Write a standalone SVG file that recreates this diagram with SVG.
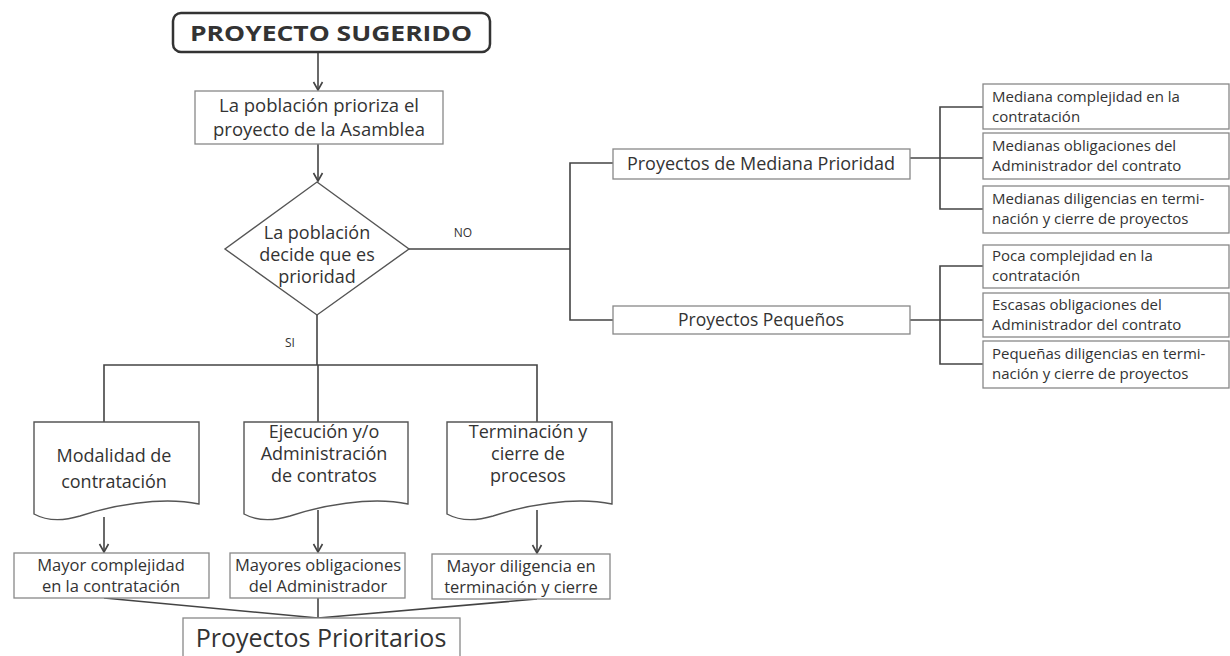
<svg xmlns="http://www.w3.org/2000/svg" width="1230" height="656" viewBox="0 0 1230 656">
<defs>
<style>
.t{font-family:"Open Sans","Liberation Sans",sans-serif;fill:#333;}
.c{text-anchor:middle;}
.box{fill:#fff;stroke:#888;stroke-width:1.3;}
.ln{fill:none;stroke:#444;stroke-width:1.6;}
.r{font-size:15px;}
.d{font-size:18px;}
.m{font-size:16.5px;}
</style>
<marker id="ar" markerWidth="12" markerHeight="12" refX="10" refY="6" orient="auto" markerUnits="userSpaceOnUse" viewBox="0 0 12 12">
<path d="M2,1.5 L10,6 L2,10.5" fill="none" stroke="#444" stroke-width="1.6"/>
</marker>
</defs>
<rect width="1230" height="656" fill="#fff"/>
<g id="connectors">
<line class="ln" x1="318" y1="52" x2="318" y2="90" marker-end="url(#ar)"/>
<line class="ln" x1="318" y1="144" x2="318" y2="181" marker-end="url(#ar)"/>
<polyline class="ln" points="409,249 570,249"/>
<polyline class="ln" points="613,163 570,163 570,320 613,320"/>
<line class="ln" x1="910" y1="158" x2="983" y2="158"/>
<polyline class="ln" points="983,107 940,107 940,209 983,209"/>
<line class="ln" x1="910" y1="320" x2="983" y2="320"/>
<polyline class="ln" points="983,266 940,266 940,364 983,364"/>
<line class="ln" x1="317" y1="315" x2="317" y2="365"/>
<polyline class="ln" points="104,422 104,365 537,365 537,422"/>
<line class="ln" x1="318" y1="365" x2="318" y2="422"/>
<line class="ln" x1="104" y1="517" x2="104" y2="552" marker-end="url(#ar)"/>
<line class="ln" x1="318" y1="510" x2="318" y2="552" marker-end="url(#ar)"/>
<line class="ln" x1="537" y1="510" x2="537" y2="553" marker-end="url(#ar)"/>
<polyline class="ln" points="104,598 318,618 537,599"/>
<line class="ln" x1="318" y1="598" x2="318" y2="618"/>
<text class="t c" x="463" y="237" font-size="12">NO</text>
<text class="t c" x="290" y="347" font-size="12">SI</text>
</g>
<g id="n-sugerido">
<rect x="173" y="13" width="317" height="39" rx="8" fill="#fff" stroke="#333" stroke-width="2.5"/>
<text class="t c" x="331" y="41" font-size="22" font-weight="bold" fill="#222" textLength="282" lengthAdjust="spacingAndGlyphs">PROYECTO SUGERIDO</text>
</g>
<g id="n-prioriza">
<rect class="box" x="195" y="91" width="248" height="53"/>
<text class="t c" x="319" y="112" font-size="18.5">La población prioriza el</text>
<text class="t c" x="319" y="135.5" font-size="18.5">proyecto de la Asamblea</text>
</g>
<g id="n-decide">
<polygon points="317,182 409,249 317,315 225,249" fill="#fff" stroke="#555" stroke-width="1.4"/>
<text class="t c" x="317" y="239" font-size="18">La población</text>
<text class="t c" x="317" y="261" font-size="18">decide que es</text>
<text class="t c" x="317" y="283" font-size="18">prioridad</text>
</g>
<g id="n-mediana">
<rect class="box" x="613" y="149" width="297" height="30"/>
<text class="t c" x="761" y="170" font-size="18">Proyectos de Mediana Prioridad</text>
</g>
<g id="n-pequenos">
<rect class="box" x="613" y="306" width="297" height="28"/>
<text class="t c" x="761" y="326" font-size="17.5">Proyectos Pequeños</text>
</g>
<g id="n-m1">
<rect class="box" x="983" y="84" width="246" height="45"/>
<text class="t r" x="992" y="102">Mediana complejidad en la</text>
<text class="t r" x="992" y="122">contratación</text>
</g>
<g id="n-m2">
<rect class="box" x="983" y="133" width="246" height="46"/>
<text class="t r" x="992" y="151">Medianas obligaciones del</text>
<text class="t r" x="992" y="171">Administrador del contrato</text>
</g>
<g id="n-m3">
<rect class="box" x="983" y="186" width="246" height="47"/>
<text class="t r" x="992" y="204">Medianas diligencias en termi-</text>
<text class="t r" x="992" y="224">nación y cierre de proyectos</text>
</g>
<g id="n-p1">
<rect class="box" x="983" y="245" width="246" height="43"/>
<text class="t r" x="992" y="261">Poca complejidad en la</text>
<text class="t r" x="992" y="281">contratación</text>
</g>
<g id="n-p2">
<rect class="box" x="983" y="293" width="246" height="44"/>
<text class="t r" x="992" y="310">Escasas obligaciones del</text>
<text class="t r" x="992" y="330">Administrador del contrato</text>
</g>
<g id="n-p3">
<rect class="box" x="983" y="341" width="246" height="47"/>
<text class="t r" x="992" y="359">Pequeñas diligencias en termi-</text>
<text class="t r" x="992" y="379">nación y cierre de proyectos</text>
</g>
<g id="n-modalidad">
<path d="M34,422 H199 V504 C160,496 110,506 80,516 C60,522 45,520 34,514 Z" fill="#fff" stroke="#555" stroke-width="1.4"/>
<text class="t c d" x="114" y="462">Modalidad de</text>
<text class="t c d" x="114" y="488">contratación</text>
</g>
<g id="n-ejecucion">
<path d="M244,422 H408 V504 C370,496 320,506 290,516 C270,522 255,520 244,514 Z" fill="#fff" stroke="#555" stroke-width="1.4"/>
<text class="t c d" x="324" y="438">Ejecución y/o</text>
<text class="t c d" x="324" y="460">Administración</text>
<text class="t c d" x="324" y="482">de contratos</text>
</g>
<g id="n-terminacion">
<path d="M447,422 H612 V504 C573,496 523,506 493,516 C473,522 458,520 447,514 Z" fill="#fff" stroke="#555" stroke-width="1.4"/>
<text class="t c d" x="528" y="438">Terminación y</text>
<text class="t c d" x="528" y="460">cierre de</text>
<text class="t c d" x="528" y="482">procesos</text>
</g>
<g id="n-mayor1">
<rect class="box" x="14" y="553" width="195" height="45"/>
<text class="t c m" x="111" y="571">Mayor complejidad</text>
<text class="t c m" x="111" y="592">en la contratación</text>
</g>
<g id="n-mayor2">
<rect class="box" x="230" y="553" width="175" height="45"/>
<text class="t c m" x="318" y="571">Mayores obligaciones</text>
<text class="t c m" x="318" y="592">del Administrador</text>
</g>
<g id="n-mayor3">
<rect class="box" x="432" y="554" width="178" height="45"/>
<text class="t c m" x="521" y="572">Mayor diligencia en</text>
<text class="t c m" x="521" y="593">terminación y cierre</text>
</g>
<g id="n-prioritarios">
<rect class="box" x="183" y="618" width="277" height="40"/>
<text class="t c" x="321" y="647" font-size="25">Proyectos Prioritarios</text>
</g>
</svg>
